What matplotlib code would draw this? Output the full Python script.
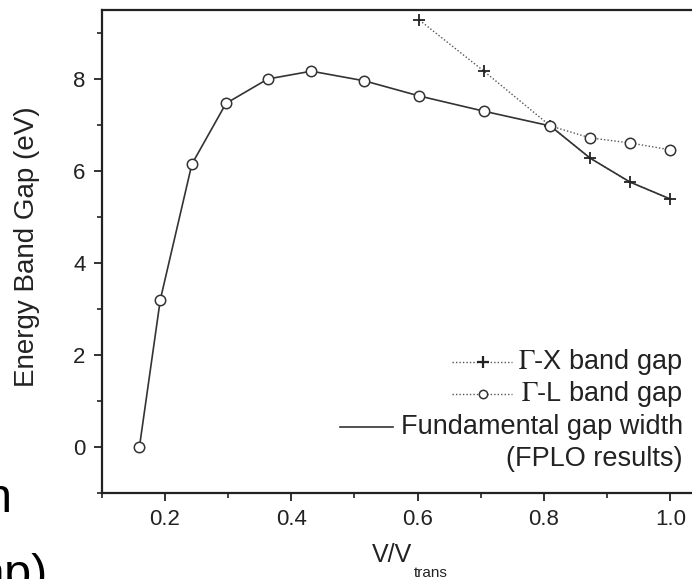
import numpy as np
import matplotlib
matplotlib.use('Agg')
import matplotlib.pyplot as plt
from matplotlib.lines import Line2D
from matplotlib.ticker import MultipleLocator

plt.rcParams['font.family'] = ['Liberation Sans', 'DejaVu Sans']
plt.rcParams['mathtext.fontset'] = 'stix'

# volume ratio V/V_trans
v_ratio = [0.160, 0.193, 0.243, 0.297, 0.363, 0.432, 0.516, 0.603, 0.705, 0.810, 0.873, 0.936, 1.000]
# fundamental gap width (FPLO), eV
fundamental_gap = [0.0, 3.20, 6.15, 7.47, 8.00, 8.17, 7.96, 7.63, 7.30, 6.98, 6.28, 5.76, 5.39]
# Gamma-L gap, eV
gamma_l_gap = [0.0, 3.20, 6.15, 7.47, 8.00, 8.17, 7.96, 7.63, 7.30, 6.98, 6.72, 6.61, 6.46]
# Gamma-X gap, eV
gamma_x_v = [0.603, 0.705, 0.810, 0.873, 0.936, 1.000]
gamma_x_gap = [9.28, 8.17, 6.98, 6.28, 5.76, 5.39]

fig = plt.figure(figsize=(6.92, 5.79), dpi=100)
ax = fig.add_axes([101.5 / 692, 86 / 579, 600.5 / 692, 483 / 579])

ink = '#222222'
ax.plot(gamma_x_v, gamma_x_gap, ls=(0, (1, 1.5)), color='#555555', lw=1.0, zorder=2)
ax.plot(v_ratio[9:], gamma_l_gap[9:], ls=(0, (1, 1.5)), color='#555555', lw=1.0, zorder=2)
ax.plot(v_ratio, fundamental_gap, '-', color='#333333', lw=1.2, zorder=3)
ax.plot(gamma_x_v, gamma_x_gap, ls='none', marker='+', ms=9, mew=1.3, color=ink, zorder=4)
ax.plot(v_ratio, gamma_l_gap, ls='none', marker='o', ms=7.5, mew=1.1,
        mfc='white', mec='#333333', zorder=5)

ax.set_xlim(0.1, 1.05)
ax.set_ylim(-1, 9.5)
ax.xaxis.set_major_locator(MultipleLocator(0.2))
ax.xaxis.set_minor_locator(MultipleLocator(0.1))
ax.yaxis.set_major_locator(MultipleLocator(2))
ax.yaxis.set_minor_locator(MultipleLocator(1))
ax.xaxis.set_major_formatter(matplotlib.ticker.FormatStrFormatter('%.1f'))
ax.tick_params(which='major', direction='out', length=5.5, width=1.3, labelsize=16,
               color=ink, labelcolor=ink, pad=6)
ax.tick_params(which='minor', direction='out', length=3.5, width=1.2, color=ink)
ax.tick_params(top=False, right=False)
ax.spines['right'].set_visible(False)
for s in ['left', 'bottom', 'top']:
    ax.spines[s].set_linewidth(1.6)
    ax.spines[s].set_color(ink)

ax.set_ylabel('Energy Band Gap (eV)', fontsize=20, color=ink)
ax.yaxis.set_label_coords(-0.102, 0.51)
ax.set_xlabel('V/V', fontsize=18, color=ink)
ax.xaxis.set_label_coords(0.4837, -0.103)
ax.text(0.5204, -0.174, 'trans', transform=ax.transAxes, ha='left', va='baseline',
        fontsize=11, color=ink)

# hand-drawn legend, text right aligned
tr = ax.transAxes
dot = dict(ls=(0, (1, 1.5)), color='#555555', lw=1.0, transform=tr)
ax.add_line(Line2D([0.584, 0.684], [0.271, 0.271], **dot))
ax.add_line(Line2D([0.635], [0.271], ls='none', marker='+', ms=9, mew=1.6,
                   color=ink, transform=tr))
ax.add_line(Line2D([0.584, 0.684], [0.205, 0.205], **dot))
ax.add_line(Line2D([0.635], [0.205], ls='none', marker='o', ms=6, mew=1.1,
                   mfc='white', mec='#333333', transform=tr))
ax.add_line(Line2D([0.397, 0.485], [0.137, 0.137], ls='-', color='#333333', lw=1.2,
                   transform=tr))
legend_rows = [r'$\Gamma$-X band gap', r'$\Gamma$-L band gap',
               'Fundamental gap width', '(FPLO results)']
for txt, yy in zip(legend_rows, [0.271, 0.205, 0.137, 0.070]):
    ax.text(0.968, yy, txt, transform=tr, ha='right', va='center',
            fontsize=19.5, color=ink)

# slide text showing at the left border
fig.text(12 / 692, (579 - 512) / 579, 'n', ha='right', va='baseline', fontsize=35, color='black')
fig.text(48 / 692, (579 - 588) / 579, 'ap)', ha='right', va='baseline', fontsize=35, color='black')

fig.savefig('out.png', dpi=100)
